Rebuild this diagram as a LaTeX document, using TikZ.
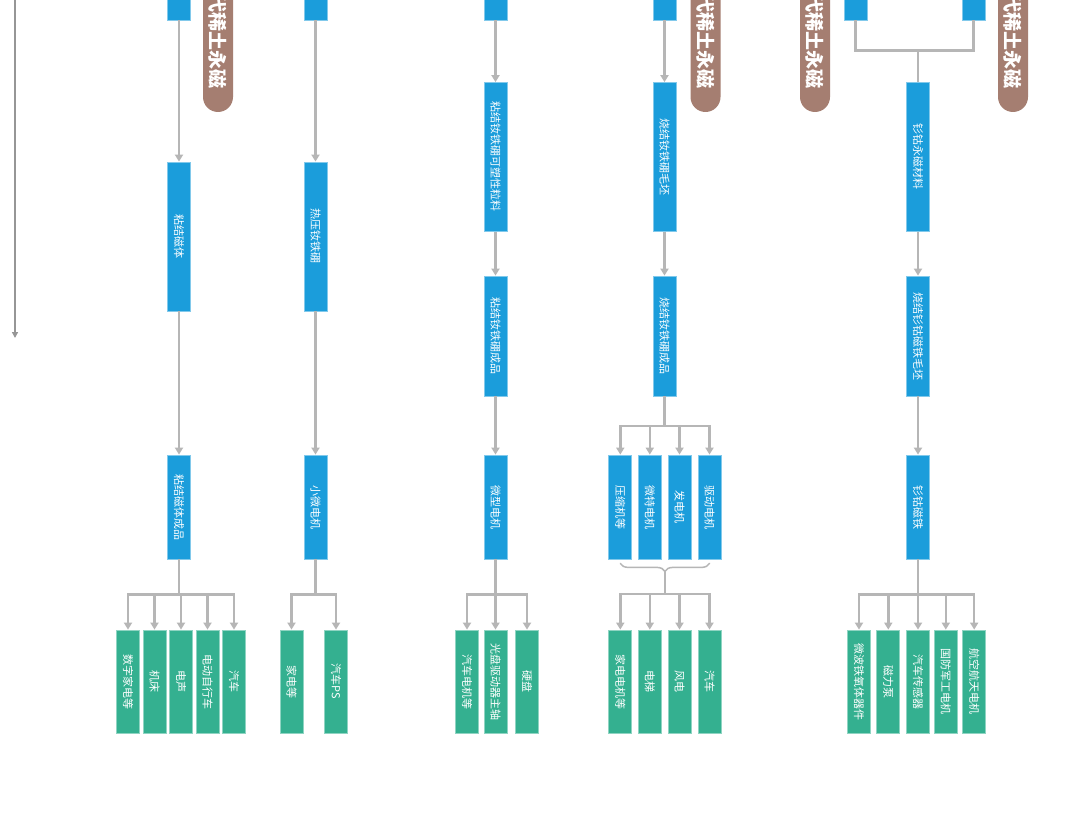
\documentclass[tikz,border=0pt]{standalone}
\usepackage{fontspec}
\usepackage{graphicx}
\usepackage{tikz}
\usetikzlibrary{arrows.meta,decorations.pathreplacing}
\newfontfamily\cjk{Noto Sans CJK SC}
\definecolor{cblue}{RGB}{27,157,219}
\definecolor{cgreen}{RGB}{52,176,144}
\definecolor{cbrown}{RGB}{165,126,113}
\definecolor{cline}{RGB}{182,182,182}
\definecolor{caxis}{RGB}{150,150,150}
\newcommand{\vt}[1]{\rotatebox{-90}{#1}}

\begin{document}
\begin{tikzpicture}[
    x=1pt, y=-1pt,
    bluebox/.style={fill=cblue, draw=cblue!55!white, line width=0.8pt, minimum width=23pt, inner sep=0pt, text=white, font=\cjk\fontsize{11}{11}\selectfont},
    greenbox/.style={bluebox, fill=cgreen, draw=cgreen!55!white, minimum height=103pt},
    pill/.style={fill=cbrown, rounded corners=15pt, minimum width=30pt, minimum height=141pt, inner sep=0pt, text=white, font=\cjk\bfseries\fontsize{19}{19}\selectfont},
    arrow/.style={draw=cline, line width=2.5pt, -{Triangle[length=7pt,width=8pt]}},
    link/.style={draw=cline, line width=2.5pt},
    bracket/.style={draw=cline, line width=1.5pt, line cap=round, decorate, decoration={brace, amplitude=8pt, mirror}}
]
\fill[white] (0,0) rectangle (1080,832);
\useasboundingbox (0,0) rectangle (1080,832);
\clip (0,0) rectangle (1080,832);

% time axis
\coordinate (ax0) at (15,-5);
\coordinate (ax1) at (15,338);
\draw[draw=caxis, line width=2.5pt, -{Triangle[length=6pt,width=6pt]}] (ax0) -- (ax1);

% labels
\node[pill] (r1) at (218,41.5) {\vt{代稀土永磁}};
\node[pill] (r2) at (705.5,41.5) {\vt{代稀土永磁}};
\node[pill] (r3) at (815,41.5) {\vt{代稀土永磁}};
\node[pill] (r4) at (1013,41.5) {\vt{代稀土永磁}};

% bonded magnets
\node[bluebox, minimum height=80pt] (t1) at (179,-20) {};
\node[bluebox, minimum height=149pt] (a1) at (179,236.5) {\vt{粘结磁体}};
\node[bluebox, minimum height=104pt] (d1) at (179,507) {\vt{粘结磁体成品}};
\node[greenbox] (g1a) at (128,681.5) {\vt{数字家电等}};
\node[greenbox] (g1b) at (154.5,681.5) {\vt{机床}};
\node[greenbox] (g1c) at (181,681.5) {\vt{电声}};
\node[greenbox] (g1d) at (207.5,681.5) {\vt{电动自行车}};
\node[greenbox] (g1e) at (234,681.5) {\vt{汽车}};
\draw[arrow] (t1) -- (a1);
\draw[arrow] (a1) -- (d1);
\foreach \g in {g1a,g1b,g1c,g1d,g1e}
    \draw[arrow] (d1.south) -- ++(0,35) -| (\g.north);

% hot pressed
\node[bluebox, minimum height=80pt] (t2) at (315.5,-20) {};
\node[bluebox, minimum height=149pt] (a2) at (315.5,236.5) {\vt{热压钕铁硼}};
\node[bluebox, minimum height=104pt] (d2) at (315.5,507) {\vt{小微电机}};
\node[greenbox] (g2a) at (291.5,681.5) {\vt{家电等}};
\node[greenbox] (g2b) at (336,681.5) {\vt{汽车PS}};
\draw[arrow] (t2) -- (a2);
\draw[arrow] (a2) -- (d2);
\foreach \g in {g2a,g2b}
    \draw[arrow] (d2.south) -- ++(0,35) -| (\g.north);

% bonded NdFeB
\node[bluebox, minimum height=80pt] (t3) at (495.5,-20) {};
\node[bluebox, minimum height=149pt] (b3) at (495.5,157) {\vt{粘结钕铁硼可塑性粒料}};
\node[bluebox, minimum height=120pt] (c3) at (495.5,336) {\vt{粘结钕铁硼成品}};
\node[bluebox, minimum height=104pt] (d3) at (495.5,507) {\vt{微型电机}};
\node[greenbox] (g3a) at (467,681.5) {\vt{汽车电机等}};
\node[greenbox] (g3b) at (495.5,681.5) {\vt{光盘驱动器主轴}};
\node[greenbox] (g3c) at (527,681.5) {\vt{硬盘}};
\draw[arrow] (t3) -- (b3);
\draw[arrow] (b3) -- (c3);
\draw[arrow] (c3) -- (d3);
\foreach \g in {g3a,g3b,g3c}
    \draw[arrow] (d3.south) -- ++(0,35) -| (\g.north);

% sintered NdFeB
\node[bluebox, minimum height=80pt] (t4) at (664.5,-20) {};
\node[bluebox, minimum height=149pt] (b4) at (664.5,157) {\vt{烧结钕铁硼毛坯}};
\node[bluebox, minimum height=120pt] (c4) at (664.5,336) {\vt{烧结钕铁硼成品}};
\node[bluebox, minimum height=104pt] (d4a) at (620.3,507) {\vt{压缩机等}};
\node[bluebox, minimum height=104pt] (d4b) at (649.8,507) {\vt{微特电机}};
\node[bluebox, minimum height=104pt] (d4c) at (679.5,507) {\vt{发电机}};
\node[bluebox, minimum height=104pt] (d4d) at (709.5,507) {\vt{驱动电机}};
\node[greenbox] (g4a) at (620.3,681.5) {\vt{家电电机等}};
\node[greenbox] (g4b) at (649.8,681.5) {\vt{电梯}};
\node[greenbox] (g4c) at (679.5,681.5) {\vt{风电}};
\node[greenbox] (g4d) at (709.5,681.5) {\vt{汽车}};
\draw[arrow] (t4) -- (b4);
\draw[arrow] (b4) -- (c4);
\foreach \d in {d4a,d4b,d4c,d4d}
    \draw[arrow] (c4.south) -- ++(0,29.5) -| (\d.north);
\draw[bracket] ([yshift=-4pt]d4a.south) -- ([yshift=-4pt]d4d.south);
\coordinate (k4) at (664.9,571);
\foreach \g in {g4a,g4b,g4c,g4d}
    \draw[arrow] (k4) -- ++(0,23) -| (\g.north);

% SmCo
\node[bluebox, minimum height=80pt] (t5a) at (855.5,-20) {};
\node[bluebox, minimum height=80pt] (t5b) at (973.5,-20) {};
\node[bluebox, minimum height=149pt] (b5) at (918,157) {\vt{钐钴永磁材料}};
\node[bluebox, minimum height=120pt] (c5) at (918,336) {\vt{烧结钐钴磁铁毛坯}};
\node[bluebox, minimum height=104pt] (d5) at (918,507) {\vt{钐钴磁铁}};
\node[greenbox] (g5a) at (859,681.5) {\vt{微波铁氧体器件}};
\node[greenbox] (g5b) at (888.3,681.5) {\vt{磁力泵}};
\node[greenbox] (g5c) at (918,681.5) {\vt{汽车传感器}};
\node[greenbox] (g5d) at (945.8,681.5) {\vt{国防军工电机}};
\node[greenbox] (g5e) at (974.2,681.5) {\vt{航空航天电机}};
\coordinate (j5) at (918,50.5);
\draw[link] (t5a.south) |- (j5);
\draw[link] (t5b.south) |- (j5);
\draw[link] (j5) -- (b5.north);
\draw[arrow] (b5) -- (c5);
\draw[arrow] (c5) -- (d5);
\foreach \g in {g5a,g5b,g5c,g5d,g5e}
    \draw[arrow] (d5.south) -- ++(0,35) -| (\g.north);
\end{tikzpicture}
\end{document}
